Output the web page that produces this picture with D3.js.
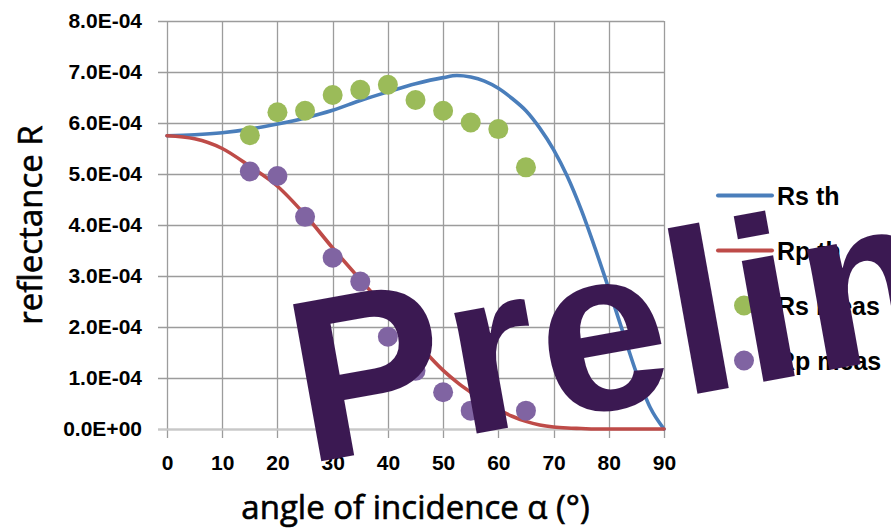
<!DOCTYPE html>
<html>
<head>
<meta charset="utf-8">
<script src="https://cdn.jsdelivr.net/npm/d3@7"></script>
<style>
  html, body { margin: 0; padding: 0; background: #fff; }
  svg { display: block; }
</style>
</head>
<body>
<svg id="chart" width="891" height="529"></svg>
<script>
// Theoretical curves (angle in degrees, reflectance)
const thAngles = [0, 5, 10, 15, 20, 25, 30, 35, 40, 45, 50, 52.5, 55, 57.5, 60, 62.5, 65, 67.5, 70, 72.5, 75, 77.5, 80, 82.5, 85, 87.5, 90];
const rsTh = [5.75e-4, 5.77e-4, 5.81e-4, 5.88e-4, 5.98e-4, 6.10e-4, 6.25e-4, 6.44e-4, 6.61e-4, 6.77e-4, 6.89e-4, 6.93e-4, 6.90e-4, 6.82e-4, 6.68e-4, 6.48e-4, 6.24e-4, 5.90e-4, 5.48e-4, 4.95e-4, 4.30e-4, 3.55e-4, 2.75e-4, 1.92e-4, 1.10e-4, 0.42e-4, 0];
const rpTh = [5.75e-4, 5.69e-4, 5.50e-4, 5.15e-4, 4.76e-4, 4.20e-4, 3.55e-4, 2.93e-4, 2.32e-4, 1.72e-4, 1.15e-4, 0.92e-4, 0.72e-4, 0.53e-4, 0.38e-4, 0.25e-4, 0.15e-4, 0.08e-4, 0.04e-4, 0.02e-4, 0.01e-4, 0, 0, 0, 0, 0, 0];

// Measurements
const rsMeasAngles = [15, 20, 25, 30, 35, 40, 45, 50, 55, 60, 65];
const rsMeas = [5.76e-4, 6.21e-4, 6.24e-4, 6.55e-4, 6.65e-4, 6.75e-4, 6.45e-4, 6.24e-4, 6.01e-4, 5.88e-4, 5.13e-4];
const rpMeasAngles = [15, 20, 25, 30, 35, 40, 45, 50, 55, 65];
const rpMeas = [5.05e-4, 4.96e-4, 4.16e-4, 3.36e-4, 2.89e-4, 1.81e-4, 1.14e-4, 0.72e-4, 0.36e-4, 0.36e-4];

// Axis ticks
const xTicks = [0, 10, 20, 30, 40, 50, 60, 70, 80, 90];
const xTickLabels = ["0", "10", "20", "30", "40", "50", "60", "70", "80", "90"];
const yTicks = [0, 1e-4, 2e-4, 3e-4, 4e-4, 5e-4, 6e-4, 7e-4, 8e-4];
const yTickLabels = ["0.0E+00", "1.0E-04", "2.0E-04", "3.0E-04", "4.0E-04", "5.0E-04", "6.0E-04", "7.0E-04", "8.0E-04"];

// Legend
const legendNames = ["Rs th", "Rp th", "Rs meas", "Rp meas"];
const legendKinds = ["line", "line", "dot", "dot"];

const colors = {
  rsLine: "#4A7EBB",
  rpLine: "#BE4B48",
  rsDot: "#9BBB59",
  rpDot: "#8064A2",
  grid: "#9C9C9C",
  mark: "#3B1952"
};
const legendColors = [colors.rsLine, colors.rpLine, colors.rsDot, colors.rpDot];

const svg = d3.select("#chart");
const plotLeft = 167, plotRight = 664, plotTop = 21, plotBottom = 429;

const x = d3.scaleLinear().domain([0, 90]).range([plotLeft, plotRight]);
const y = d3.scaleLinear().domain([0, 8e-4]).range([plotBottom, plotTop]);

svg.append("rect").attr("width", 891).attr("height", 529).attr("fill", "#fff");

// Gridlines (they also extend outward as tick marks)
const grid = svg.append("g").attr("class", "grid");
grid.selectAll("line.h").data(yTicks).join("line")
  .attr("class", "h")
  .attr("x1", plotLeft - 9).attr("x2", plotRight)
  .attr("y1", d => Math.round(y(d)) + 0.5).attr("y2", d => Math.round(y(d)) + 0.5)
  .attr("stroke", colors.grid).attr("stroke-width", 1.3);
grid.selectAll("line.v").data(xTicks).join("line")
  .attr("class", "v")
  .attr("x1", d => Math.round(x(d)) + 0.5).attr("x2", d => Math.round(x(d)) + 0.5)
  .attr("y1", plotTop).attr("y2", plotBottom + 9)
  .attr("stroke", colors.grid).attr("stroke-width", 1.3);

// Bottom axis line
svg.append("line")
  .attr("x1", plotLeft - 9).attr("x2", plotRight)
  .attr("y1", y(0) + 0.5).attr("y2", y(0) + 0.5)
  .attr("stroke", "#C8C8C8").attr("stroke-width", 2);

const tickFont = sel => sel
  .attr("fill", "#000")
  .style("font-family", "'Liberation Sans', Arial, sans-serif")
  .style("font-weight", "bold")
  .style("font-size", "21px");

// Axes (labels only, tick marks come from the grid)
const xAxis = d3.axisBottom(x)
  .tickValues(xTicks)
  .tickFormat((d, i) => xTickLabels[i])
  .tickSize(9).tickPadding(17);
const gx = svg.append("g").attr("transform", `translate(0,${plotBottom})`).call(xAxis);
gx.select(".domain").remove();
gx.selectAll(".tick line").remove();
gx.selectAll("text").call(tickFont);

const yAxis = d3.axisLeft(y)
  .tickValues(yTicks)
  .tickFormat((d, i) => yTickLabels[i])
  .tickSize(9).tickPadding(16);
const gy = svg.append("g").attr("transform", `translate(${plotLeft},0)`).call(yAxis);
gy.select(".domain").remove();
gy.selectAll(".tick line").remove();
gy.selectAll("text").call(tickFont);

// Axis titles
const titleFont = sel => sel
  .attr("text-anchor", "middle")
  .style("font-family", "'Open Sans', sans-serif")
  .style("font-size", "33px")
  .attr("fill", "#000")
  .attr("stroke", "#000")
  .attr("stroke-width", 0.6);

svg.append("text")
  .attr("x", (plotLeft + plotRight) / 2).attr("y", 519)
  .call(titleFont)
  .text("angle of incidence α (°)");

svg.append("text")
  .attr("transform", `translate(42,${(plotTop + plotBottom) / 2}) rotate(-90)`)
  .call(titleFont)
  .text("reflectance R");

// Theory curves
const line = d3.line()
  .x(d => x(d[0]))
  .y(d => y(d[1]))
  .curve(d3.curveMonotoneX);

svg.append("path")
  .datum(thAngles.map((a, i) => [a, rsTh[i]]))
  .attr("d", line)
  .attr("fill", "none")
  .attr("stroke", colors.rsLine)
  .attr("stroke-width", 3.6)
  .attr("stroke-linecap", "round");

svg.append("path")
  .datum(thAngles.map((a, i) => [a, rpTh[i]]))
  .attr("d", line)
  .attr("fill", "none")
  .attr("stroke", colors.rpLine)
  .attr("stroke-width", 3.6)
  .attr("stroke-linecap", "round");

// Measured points
svg.append("g").selectAll("circle")
  .data(rsMeasAngles.map((a, i) => [a, rsMeas[i]]))
  .join("circle")
  .attr("cx", d => x(d[0])).attr("cy", d => y(d[1]))
  .attr("r", 10)
  .attr("fill", colors.rsDot);

svg.append("g").selectAll("circle")
  .data(rpMeasAngles.map((a, i) => [a, rpMeas[i]]))
  .join("circle")
  .attr("cx", d => x(d[0])).attr("cy", d => y(d[1]))
  .attr("r", 10)
  .attr("fill", colors.rpDot);

// Legend
const legend = svg.append("g");
const rows = legend.selectAll("g").data(legendNames).join("g")
  .attr("transform", (d, i) => `translate(0,${195.5 + i * 55})`);
rows.each(function (d, i) {
  const g = d3.select(this);
  if (legendKinds[i] === "line") {
    g.append("line")
      .attr("x1", 718).attr("x2", 772).attr("y1", 0).attr("y2", 0)
      .attr("stroke", legendColors[i]).attr("stroke-width", 4)
      .attr("stroke-linecap", "round");
  } else {
    g.append("circle").attr("cx", 744).attr("cy", 0).attr("r", 10)
      .attr("fill", legendColors[i]);
  }
  g.append("text")
    .attr("x", 777).attr("y", 9)
    .style("font-family", "'Liberation Sans', Arial, sans-serif")
    .style("font-weight", "bold")
    .style("font-size", "25px")
    .attr("fill", "#000")
    .text(d);
});

// Watermark stamp
svg.append("text")
  .attr("transform", "translate(306,464) rotate(-10.2)")
  .style("font-family", "'Liberation Sans', Arial, sans-serif")
  .style("font-weight", "bold")
  .style("font-size", "232px")
  .style("letter-spacing", "2.5px")
  .attr("fill", colors.mark)
  .text("Preliminary");
</script>
</body>
</html>
